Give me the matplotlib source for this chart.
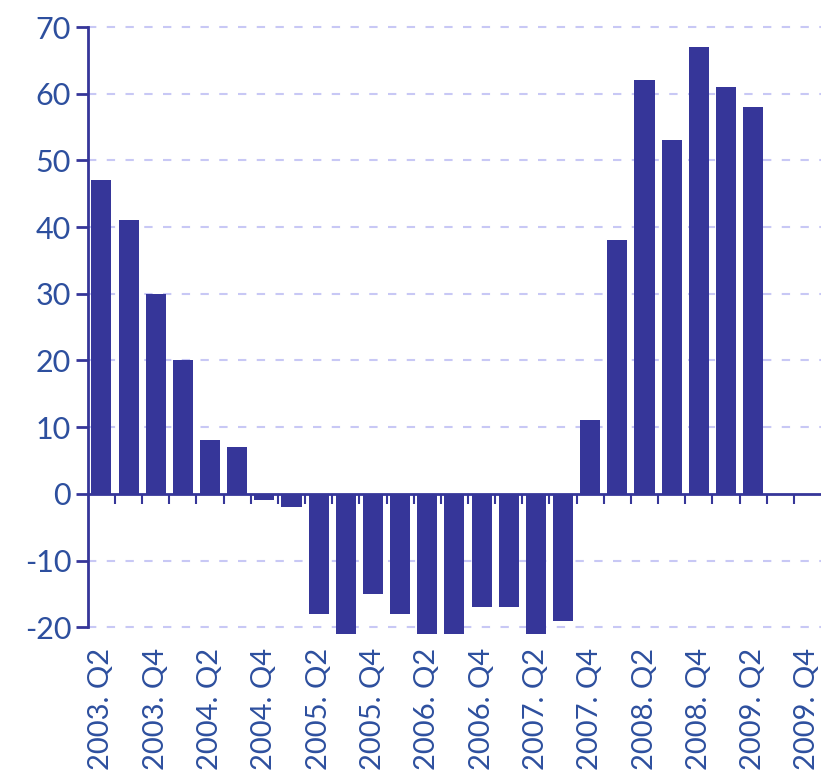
import matplotlib
matplotlib.use("Agg")
import matplotlib.pyplot as plt
import numpy as np

quarters = ["2003. Q2", "2003. Q3", "2003. Q4",
            "2004. Q1", "2004. Q2", "2004. Q3", "2004. Q4",
            "2005. Q1", "2005. Q2", "2005. Q3", "2005. Q4",
            "2006. Q1", "2006. Q2", "2006. Q3", "2006. Q4",
            "2007. Q1", "2007. Q2", "2007. Q3", "2007. Q4",
            "2008. Q1", "2008. Q2", "2008. Q3", "2008. Q4",
            "2009. Q1", "2009. Q2", "2009. Q3", "2009. Q4"]
values = [47, 41, 30, 20, 8, 7, -1, -2, -18, -21, -15, -18, -21, -21,
          -17, -17, -21, -19, 11, 38, 62, 53, 67, 61, 58]
yticks = [-20, -10, 0, 10, 20, 30, 40, 50, 60, 70]

bar_color = "#363699"
text_color = "#2d4f9e"
grid_color = "#c8c8f5"

plt.rcParams['font.family'] = ['Lato', 'DejaVu Sans']

fig = plt.figure(figsize=(8.21, 7.78), dpi=100)
ax = fig.add_axes([0.107, 0.181, 0.893, 0.7885])

x = np.arange(len(values))
ax.bar(x, values, width=0.74, color=bar_color, zorder=3, clip_on=False)

ax.set_xlim(-0.5, len(quarters) - 0.5)
ax.set_ylim(-21.5, 70.5)

ax.set_yticks(yticks)
ax.set_yticklabels([str(v) for v in yticks], fontsize=22, color=text_color)
ax.tick_params(axis='y', length=9, width=2, color=bar_color, pad=3)

for v in yticks:
    if v != 0:
        ax.axhline(v, color=grid_color, lw=1.5, ls=(0, (4, 5)), zorder=1)

for s in ['top', 'right']:
    ax.spines[s].set_visible(False)
ax.spines['left'].set_bounds(-20, 70)
ax.spines['left'].set_color(bar_color)
ax.spines['left'].set_linewidth(2)
ax.spines['bottom'].set_position(('data', 0))
ax.spines['bottom'].set_color(bar_color)
ax.spines['bottom'].set_linewidth(2)
ax.spines['bottom'].set_zorder(4)

ax.set_xticks(np.arange(0.5, len(quarters) - 1, 1.0))
ax.set_xticklabels([])
ax.tick_params(axis='x', length=7, width=1.5, color=bar_color, direction='out')

for i, q in enumerate(quarters):
    if i % 2 == 0:
        ax.text(i, -0.017, q, rotation=90, ha='center', va='top',
                fontsize=21, color=text_color,
                transform=ax.get_xaxis_transform())

fig.savefig("out.png", dpi=100)
